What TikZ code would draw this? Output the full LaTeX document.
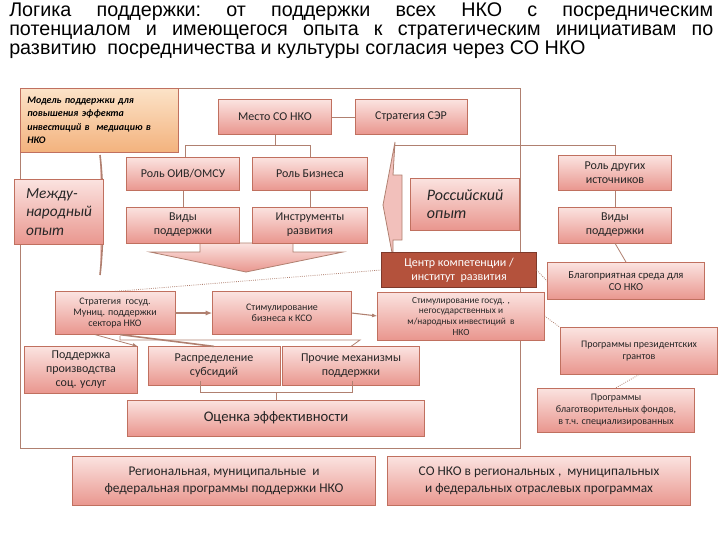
\documentclass[tikz,border=0pt]{standalone}
\usepackage{fontspec}
\setmainfont{Carlito}
\newfontfamily\titlefont{Liberation Sans}
\usetikzlibrary{arrows.meta,positioning}
\definecolor{bord}{HTML}{C0705F}
\definecolor{ptop}{HTML}{FBE3E0}
\definecolor{pbot}{HTML}{E9968E}
\definecolor{dark}{HTML}{B4523C}
\definecolor{otop}{HTML}{FCE3C8}
\definecolor{obot}{HTML}{F3B27D}
\definecolor{lnc}{HTML}{B08070}
\tikzset{
 x=0.75pt,y=-0.75pt,
 bx/.style={draw=bord,top color=ptop,bottom color=pbot,inner sep=1pt,align=center,font=\fontsize{9}{10.5}\selectfont,text=black!85},
 ln/.style={draw=lnc,line width=0.6pt},
 dl/.style={draw=lnc,densely dotted,line width=0.6pt},
}
\begin{document}
\begin{tikzpicture}
\useasboundingbox[fill=white] (0,0) rectangle (720,540);
% title
\node[anchor=north west,text width=528pt,align=justify,font=\titlefont\fontsize{14.8}{14.6}\selectfont,inner sep=0pt] (title) at (9,2)
 {Логика\ \ поддержки:\ \ от\ \ поддержки\ \ всех\ \ НКО\ \ с\ \ посредническим\linebreak потенциалом и имеющегося опыта к стратегическим инициативам по\linebreak развитию\ \ посредничества и культуры согласия\ через СО НКО\hfill\null\par};
% frame
\draw[ln] (20,88) -- (520,88) -- (520,448) -- (20,448) -- (20,88);
% brackets
\draw[ln,line width=1.2pt,fill=pbot!50] (100,155) .. controls (104,190) and (104,240) .. (100,275);
\draw[ln,fill=pbot!60] (395,142) -- (383,205) -- (393,258) -- (393,240) -- (402,240) -- (402,175) -- (393,175) -- cycle;
% down chevron
\draw[ln,top color=ptop,bottom color=pbot] (150,252) -- (200,252) -- (200,243) -- (293,243) -- (293,252) -- (343,252) -- (246,272) -- cycle;
% nodes
\node[draw=bord,top color=otop,bottom color=obot,anchor=north west,minimum width=118.5pt,minimum height=48pt,text width=108pt,align=left,font=\fontsize{7.5}{10}\selectfont\bfseries\itshape,inner sep=3pt] (model) at (20,88) {Модель поддержки для повышения эффекта инвестиций в\ \ медиацию в НКО};
\node[bx,minimum width=85pt,minimum height=26pt] (mesto) at (275,117) {Место СО НКО};
\node[bx,minimum width=84pt,minimum height=26pt] (ser) at (411,117) {Стратегия СЭР};
\node[bx,minimum width=85pt,minimum height=25pt] (oiv) at (183,174) {Роль ОИВ/ОМСУ};
\node[bx,minimum width=86pt,minimum height=25pt] (biz) at (310,174) {Роль Бизнеса};
\node[bx,minimum width=85pt,minimum height=27pt] (vid) at (183,225) {Виды\\поддержки};
\node[bx,minimum width=86pt,minimum height=27pt] (instr) at (310,225) {Инструменты\\развития};
\node[bx,minimum width=67pt,minimum height=49pt,align=left,font=\fontsize{11.5}{14}\selectfont\itshape] (mezh) at (59,212) {Между-\\народный\\опыт};
\node[bx,minimum width=82pt,minimum height=39pt,align=left,font=\fontsize{12}{14}\selectfont\itshape] (ros) at (465,204) {Российский\\опыт};
\node[bx,minimum width=85pt,minimum height=26pt] (drug) at (615,173) {Роль других\\источников};
\node[bx,minimum width=85pt,minimum height=27pt] (vid2) at (615,225) {Виды\\поддержки};
\node[draw=dark!70!black,fill=dark,text=white,minimum width=116pt,minimum height=26pt,align=center,font=\fontsize{9}{10.5}\selectfont,inner sep=1pt] (centr) at (459,270) {Центр компетенции /\\институт\ \ развития};
\node[bx,minimum width=118pt,minimum height=28pt,font=\fontsize{8}{9.5}\selectfont] (blag) at (626,281) {Благоприятная среда для\\СО НКО};
\node[bx,minimum width=90pt,minimum height=32pt,font=\fontsize{7.5}{8.5}\selectfont] (strat) at (115,313) {Стратегия\ \ госуд.\\Муниц. поддержки\\сектора НКО};
\node[bx,minimum width=104pt,minimum height=32pt,font=\fontsize{7.5}{8.5}\selectfont] (stimb) at (282,313) {Стимулирование\\бизнеса к КСО};
\node[bx,minimum width=125pt,minimum height=36pt,font=\fontsize{7}{8}\selectfont] (stimg) at (461,316) {Стимулирование госуд. ,\\негосударственных и\\м/народных инвестиций\ \ в\\НКО};
\node[bx,minimum width=118pt,minimum height=35pt,font=\fontsize{7.5}{8.5}\selectfont] (pres) at (639,351) {Программы президентских\\грантов};
\node[bx,minimum width=118pt,minimum height=33pt,font=\fontsize{7.5}{9}\selectfont] (fond) at (616,410) {Программы\\благотворительных фондов,\\в т.ч. специализированных};
\node[bx,minimum width=85pt,minimum height=35pt] (podd) at (81,370) {Поддержка\\производства\\соц. услуг};
\node[bx,minimum width=99pt,minimum height=29pt] (rasp) at (214,366) {Распределение\\субсидий};
\node[bx,minimum width=103pt,minimum height=29pt] (proch) at (351,366) {Прочие механизмы\\поддержки};
\node[bx,minimum width=223pt,minimum height=27pt,font=\fontsize{11}{13}\selectfont] (ocen) at (276,418) {Оценка эффективности};
\node[bx,minimum width=227pt,minimum height=37pt,font=\fontsize{10}{12.5}\selectfont] (reg) at (224,481) {Региональная, муниципальные\ \ и\\федеральная программы поддержки НКО};
\node[bx,minimum width=227pt,minimum height=37pt,font=\fontsize{10}{12.5}\selectfont] (sonko) at (539,481) {СО НКО в региональных ,\ \ муниципальных\\и федеральных отраслевых программах};
% connectors
\draw[ln] (mesto.east) -- (ser.west);
\draw[ln] (mesto.south) -- (275,145) coordinate (m1);
\draw[ln] (185,145) -- (310,145);
\draw[ln] (185,145) -- (185,157);
\draw[ln] (310,145) -- (biz.north);
\draw[ln] (oiv.south) -- (vid.north);
\draw[ln] (biz.south) -- (instr.north);
\draw[ln] (395,145) -- (615,145) -- (drug.north);
\draw[ln] (drug.south) -- (vid2.north);
\draw[ln] (vid2.south) -- (blag.north);
\draw[dl] (centr.west) -- (strat.north);
\draw[dl] (centr.east) -- (blag.west);
\draw[dl] (stimg.east) -- (pres.north west);
\draw[dl] (pres.south) -- (fond.north);
\draw[ln,line width=1.8pt,-{Latex[length=5pt]}] (strat.east) -- (stimb.west);
\draw[ln,line width=0.8pt,-{Latex[length=4pt]}] (stimb.east) -- (stimg.west);
\draw[ln,-{Latex[length=4pt]}] (strat.south) ++(-20,0) -- (podd.north east);
\draw[ln,line width=1.2pt] (strat.south) ++(5,0) -- (rasp.north);
\draw[ln] (120,336) -- (120,340) -- (360,340) -- (proch.north);
\draw[ln] (200,381) -- (200,392) -- (352,392) -- (352,381);
\draw[ln] (276,392) -- (ocen.north);
\end{tikzpicture}
\end{document}
